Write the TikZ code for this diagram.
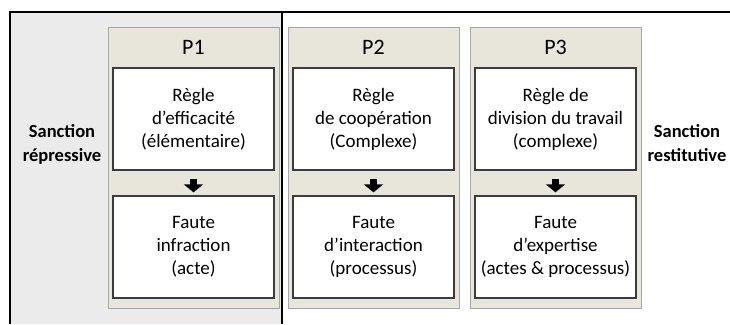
\documentclass[tikz,border=0pt]{standalone}
\usepackage{fontspec}
\setmainfont{Carlito}
\usetikzlibrary{arrows.meta}
\definecolor{zonegris}{HTML}{EBEBEB}
\definecolor{colfond}{HTML}{E8E6DA}
\definecolor{colbord}{HTML}{A6A6A6}
\definecolor{boxbord}{HTML}{3C3C3C}

\begin{document}
\begin{tikzpicture}[x=1pt,y=-1pt,
    col/.style={draw=colbord,fill=colfond,line width=1pt,minimum width=171pt,minimum height=281pt,inner sep=0pt},
    box/.style={draw=boxbord,fill=white,line width=1.3pt,minimum width=161pt,minimum height=102pt,align=center,inner sep=2pt,font=\fontsize{19}{23}\selectfont},
    titre/.style={font=\fontsize{22}{24}\selectfont},
    sanction/.style={align=center,font=\fontsize{18.5}{24}\selectfont\bfseries},
    fleche/.style={-{Triangle[width=19pt,length=8pt]},line width=7pt,shorten <=8pt,shorten >=3pt}]
  \useasboundingbox (0,0) rectangle (730,324);
  \fill[zonegris] (10,12) rectangle (282,324);
  \draw[line width=1.3pt] (10,324) -- (10,12) -- (730,12);
  \draw[line width=1.3pt] (282,12) -- (282,324);

  \node[col] (c1) at (193.5,167.5) {};
  \node[col] (c2) at (373.5,167.5) {};
  \node[col] (c3) at (555.5,167.5) {};

  \node[titre] (p1) at (193.5,47) {P1};
  \node[titre] (p2) at (373.5,47) {P2};
  \node[titre] (p3) at (555.5,47) {P3};

  \node[box] (r1) at (193.5,119) {Règle\\d’efficacité\\(élémentaire)};
  \node[box] (r2) at (373.5,119) {Règle\\de coopération\\(Complexe)};
  \node[box] (r3) at (555.5,119) {Règle de\\division du travail\\(complexe)};

  \node[box] (f1) at (193.5,247) {Faute\\infraction\\(acte)};
  \node[box] (f2) at (373.5,247) {Faute\\d’interaction\\(processus)};
  \node[box] (f3) at (555.5,247) {Faute\\d’expertise\\(actes \& processus)};

  \draw[fleche] (r1) -- (f1);
  \draw[fleche] (r2) -- (f2);
  \draw[fleche] (r3) -- (f3);

  \node[sanction] (sr) at (62,144) {Sanction\\répressive};
  \node[sanction] (st) at (687,143) {Sanction\\restitutive};
\end{tikzpicture}
\end{document}
